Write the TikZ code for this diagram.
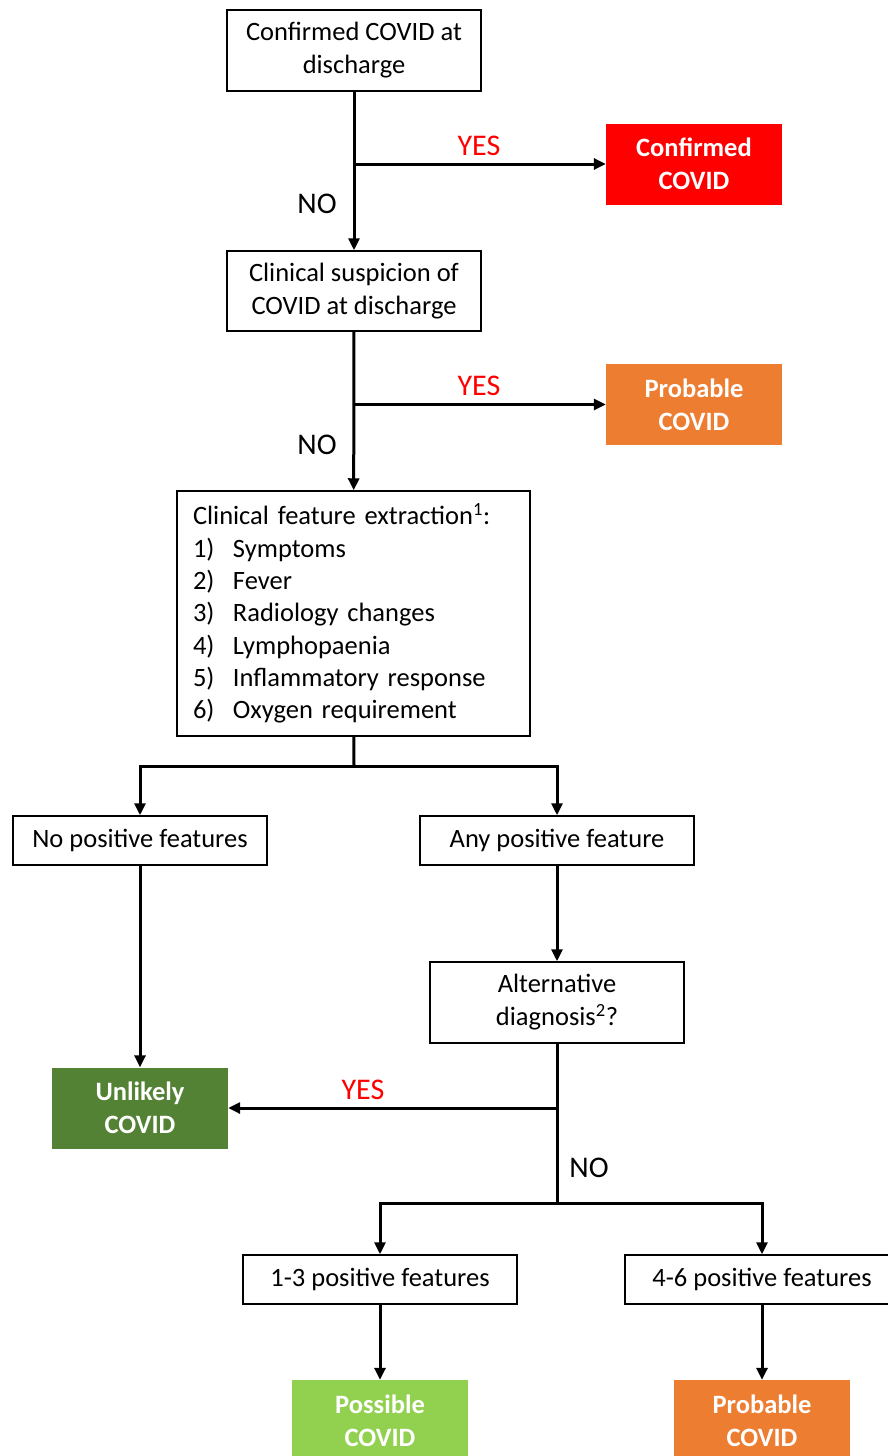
\documentclass[tikz,border=0pt]{standalone}
\usepackage{fontspec}
\setmainfont{Carlito}
\usetikzlibrary{arrows.meta}
\definecolor{covidRed}{RGB}{255,0,0}
\definecolor{covidOrange}{RGB}{237,125,49}
\definecolor{covidGreen}{RGB}{84,130,53}
\definecolor{covidLime}{RGB}{146,208,80}

\begin{document}
\begin{tikzpicture}[x=1pt, y=-1pt,
    box/.style={draw, line width=1.5pt, align=center, inner sep=0pt, font=\fontsize{26.5}{33}\selectfont},
    outcome/.style={fill=#1, text=white, align=center, inner sep=0pt, minimum width=176pt, minimum height=81pt, font=\fontsize{26.5}{33}\selectfont\bfseries},
    link/.style={line width=3pt, -{Triangle[length=12pt, width=11pt]}},
    yes/.style={text=covidRed, font=\fontsize{30}{33}\selectfont},
    no/.style={font=\fontsize{30}{33}\selectfont}]
    \useasboundingbox (0,0) rectangle (888,1456);
    \clip (0,0) rectangle (888,1456);

    % top decisions
    \node[box, minimum width=254pt, minimum height=81pt] (confirm) at (354,50.5) {Confirmed COVID at\\discharge};
    \node[outcome=covidRed] (redOut) at (694,164) {Confirmed\\COVID};
    \node[box, minimum width=254pt, minimum height=80pt] (suspicion) at (354,291) {Clinical suspicion of\\COVID at discharge};
    \node[outcome=covidOrange] (orangeOut) at (694,404.5) {Probable\\COVID};

    \draw[link] (confirm) -- (suspicion);
    \draw[link] (confirm |- redOut) -- (redOut);
    \node[yes] (yes1) at (479,146) {YES};
    \node[no] (no1) at (317,204) {NO};

    % feature list
    \node[draw, line width=1.5pt, inner xsep=16pt, inner ysep=0pt, text width=321pt, align=left, minimum height=245pt,
          font=\fontsize{26.5}{32.3}\selectfont] (features) at (353.5,613.5)
        {Clinical feature extraction\textsuperscript{1}:\\
         \makebox[40pt][l]{1)}Symptoms\\
         \makebox[40pt][l]{2)}Fever\\
         \makebox[40pt][l]{3)}Radiology changes\\
         \makebox[40pt][l]{4)}Lymphopaenia\\
         \makebox[40pt][l]{5)}Inflammatory response\\
         \makebox[40pt][l]{6)}Oxygen requirement};

    \draw[link] (suspicion) -- (features);
    \draw[link] (suspicion |- orangeOut) -- (orangeOut);
    \node[yes] (yes2) at (479,386) {YES};
    \node[no] (no2) at (317,445) {NO};

    % split on features
    \node[box, minimum width=254pt, minimum height=49pt] (noPos) at (140,840.5) {No positive features};
    \node[box, minimum width=274pt, minimum height=49pt] (anyPos) at (557,840.5) {Any positive feature};
    \coordinate (split1) at (354,766);
    \draw[line width=3pt] (features) -- (split1);
    \draw[link] (split1) -| (noPos);
    \draw[link] (split1) -| (anyPos);

    \node[box, minimum width=254pt, minimum height=81pt] (altDiag) at (557,1002.5) {Alternative\\diagnosis\textsuperscript{2}?};
    \node[outcome=covidGreen] (unlikely) at (140,1108) {Unlikely\\COVID};
    \draw[link] (noPos) -- (unlikely);
    \draw[link] (anyPos) -- (altDiag);

    \coordinate (split2) at (557,1203);
    \draw[line width=3pt] (altDiag) -- (split2);
    \draw[link] (altDiag |- unlikely) -- (unlikely);
    \node[yes] (yes3) at (363,1090) {YES};
    \node[no] (no3) at (589,1168) {NO};

    % counts
    \node[box, minimum width=274pt, minimum height=49pt] (fewPos) at (380,1279.5) {1-3 positive features};
    \node[box, minimum width=274pt, minimum height=49pt] (manyPos) at (762,1279.5) {4-6 positive features};
    \draw[link] (split2) -| (fewPos);
    \draw[link] (split2) -| (manyPos);

    \node[outcome=covidLime, minimum height=82pt] (possible) at (380,1421) {Possible\\COVID};
    \node[outcome=covidOrange, minimum height=82pt] (probable) at (762,1421) {Probable\\COVID};
    \draw[link] (fewPos) -- (possible);
    \draw[link] (manyPos) -- (probable);
\end{tikzpicture}
\end{document}
